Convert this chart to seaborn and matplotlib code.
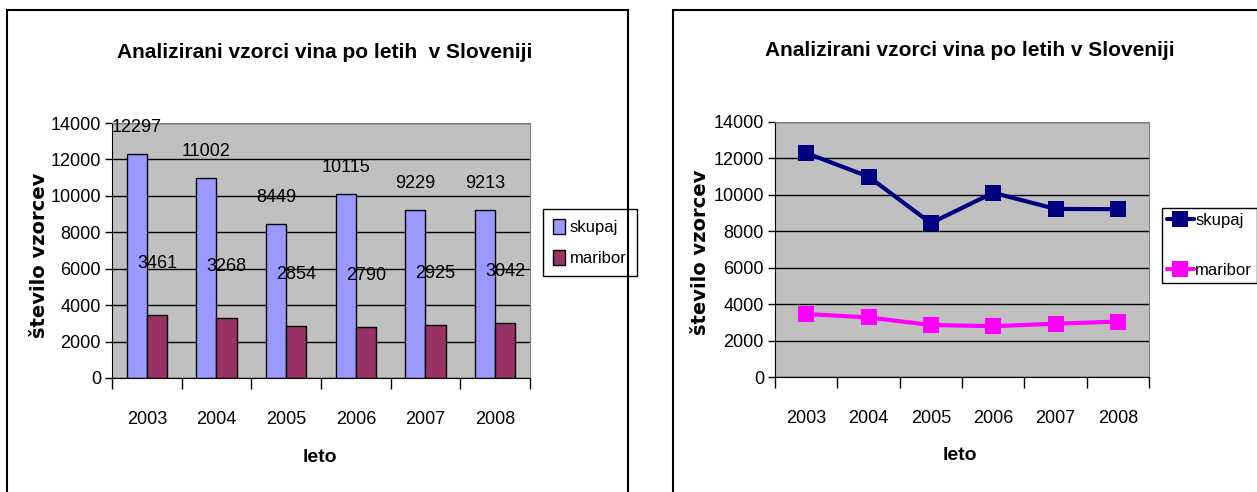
import pandas as pd
import seaborn as sns
import matplotlib.pyplot as plt
from matplotlib.patches import Rectangle

years = ["2003", "2004", "2005", "2006", "2007", "2008"]
skupaj = [12297, 11002, 8449, 10115, 9229, 9213]
maribor = [3461, 3268, 2854, 2790, 2925, 3042]
series = ["skupaj", "maribor"]
bar_colors = ["#9999FF", "#993366"]
line_colors = ["#000080", "#FF00FF"]

title_txt = "Analizirani vzorci vina po letih  v Sloveniji"
title_txt2 = "Analizirani vzorci vina po letih v Sloveniji"
ylab = "število vzorcev"
xlab = "leto"

df = pd.DataFrame({
    "leto": years * 2,
    "vzorci": skupaj + maribor,
    "serija": [series[0]] * 6 + [series[1]] * 6,
})

sns.set_style("white")
plt.rcParams["font.family"] = ["Liberation Sans", "DejaVu Sans"]
plt.rcParams["text.color"] = "black"
plt.rcParams["xtick.color"] = "black"
plt.rcParams["ytick.color"] = "black"

W, H = 1257, 492
fig = plt.figure(figsize=(W / 100, H / 100), dpi=100)


def px_axes(l, t, r, b):
    return fig.add_axes([l / W, 1 - b / H, (r - l) / W, (b - t) / H])


def style_axes(ax):
    ax.set_facecolor("#C0C0C0")
    ax.set_ylim(0, 14000)
    ax.set_xlim(-0.5, 5.5)
    ax.set_yticks(range(0, 14001, 2000))
    ax.yaxis.grid(True, color="black", linewidth=1)
    ax.set_axisbelow(True)
    for s in ["top", "right"]:
        ax.spines[s].set_color("#808080")
    for s in ["left", "bottom"]:
        ax.spines[s].set_color("black")
    ax.tick_params(axis="y", length=5, width=1, color="black", labelsize=13, pad=3, left=True)
    ax.tick_params(axis="x", which="major", length=0, labelsize=13, pad=24)
    # excel style: tick marks between categories
    ax.set_xticks([i - 0.5 for i in range(7)], minor=True)
    ax.tick_params(axis="x", which="minor", length=8, width=1, color="black", bottom=True)
    ax.set_xlabel("")
    ax.set_ylabel("")


legend_kw = dict(loc="upper left", bbox_transform=fig.transFigure, borderaxespad=0, fontsize=12,
                 fancybox=False, edgecolor="black", framealpha=1, title=None)

# frames around both charts
fig.patches.append(Rectangle((7 / W, -0.1), 621 / W, 1 - 10 / H + 0.1, transform=fig.transFigure,
                             fill=False, edgecolor="black", linewidth=1.5))
fig.patches.append(Rectangle((673 / W, -0.1), 0.5, 1 - 10 / H + 0.1, transform=fig.transFigure,
                             fill=False, edgecolor="black", linewidth=1.5))

# left: bar chart
ax1 = px_axes(112, 123, 530, 378)
sns.barplot(data=df, x="leto", y="vzorci", hue="serija", palette=bar_colors,
            width=0.58, edgecolor="black", linewidth=1, saturation=1, ax=ax1)
style_axes(ax1)
ax1.bar_label(ax1.containers[0], fontsize=13, padding=13)
ax1.bar_label(ax1.containers[1], fontsize=13, padding=31)
ax1.legend(bbox_to_anchor=(543 / W, 1 - 209 / H), handlelength=0.7, handleheight=1.0,
           handletextpad=0.3, borderpad=0.6, labelspacing=0.9, **legend_kw)

# right: line chart
ax2 = px_axes(775, 122, 1149, 377)
sns.lineplot(data=df, x="leto", y="vzorci", hue="serija", palette=line_colors,
             marker="s", markersize=11, markeredgewidth=0, linewidth=3, ax=ax2)
style_axes(ax2)
ax2.legend(bbox_to_anchor=(1162 / W, 1 - 208 / H), handlelength=1.6, handletextpad=0.1,
           borderpad=0.3, labelspacing=2.1, **legend_kw)

# texts
fig.text(325 / W, 1 - 52 / H, title_txt, ha="center", va="center", fontsize=15, fontweight="bold")
fig.text(970 / W, 1 - 50 / H, title_txt2, ha="center", va="center", fontsize=15, fontweight="bold")
fig.text(320 / W, 1 - 458 / H, xlab, ha="center", va="center", fontsize=14, fontweight="bold")
fig.text(960 / W, 1 - 455 / H, xlab, ha="center", va="center", fontsize=14, fontweight="bold")
fig.text(40 / W, 1 - 255 / H, ylab, ha="center", va="center", rotation=90, fontsize=14,
         fontweight="bold", family=["DejaVu Sans"])
fig.text(700 / W, 1 - 252 / H, ylab, ha="center", va="center", rotation=90, fontsize=14,
         fontweight="bold", family=["DejaVu Sans"])

fig.savefig("out.png", dpi=100)
